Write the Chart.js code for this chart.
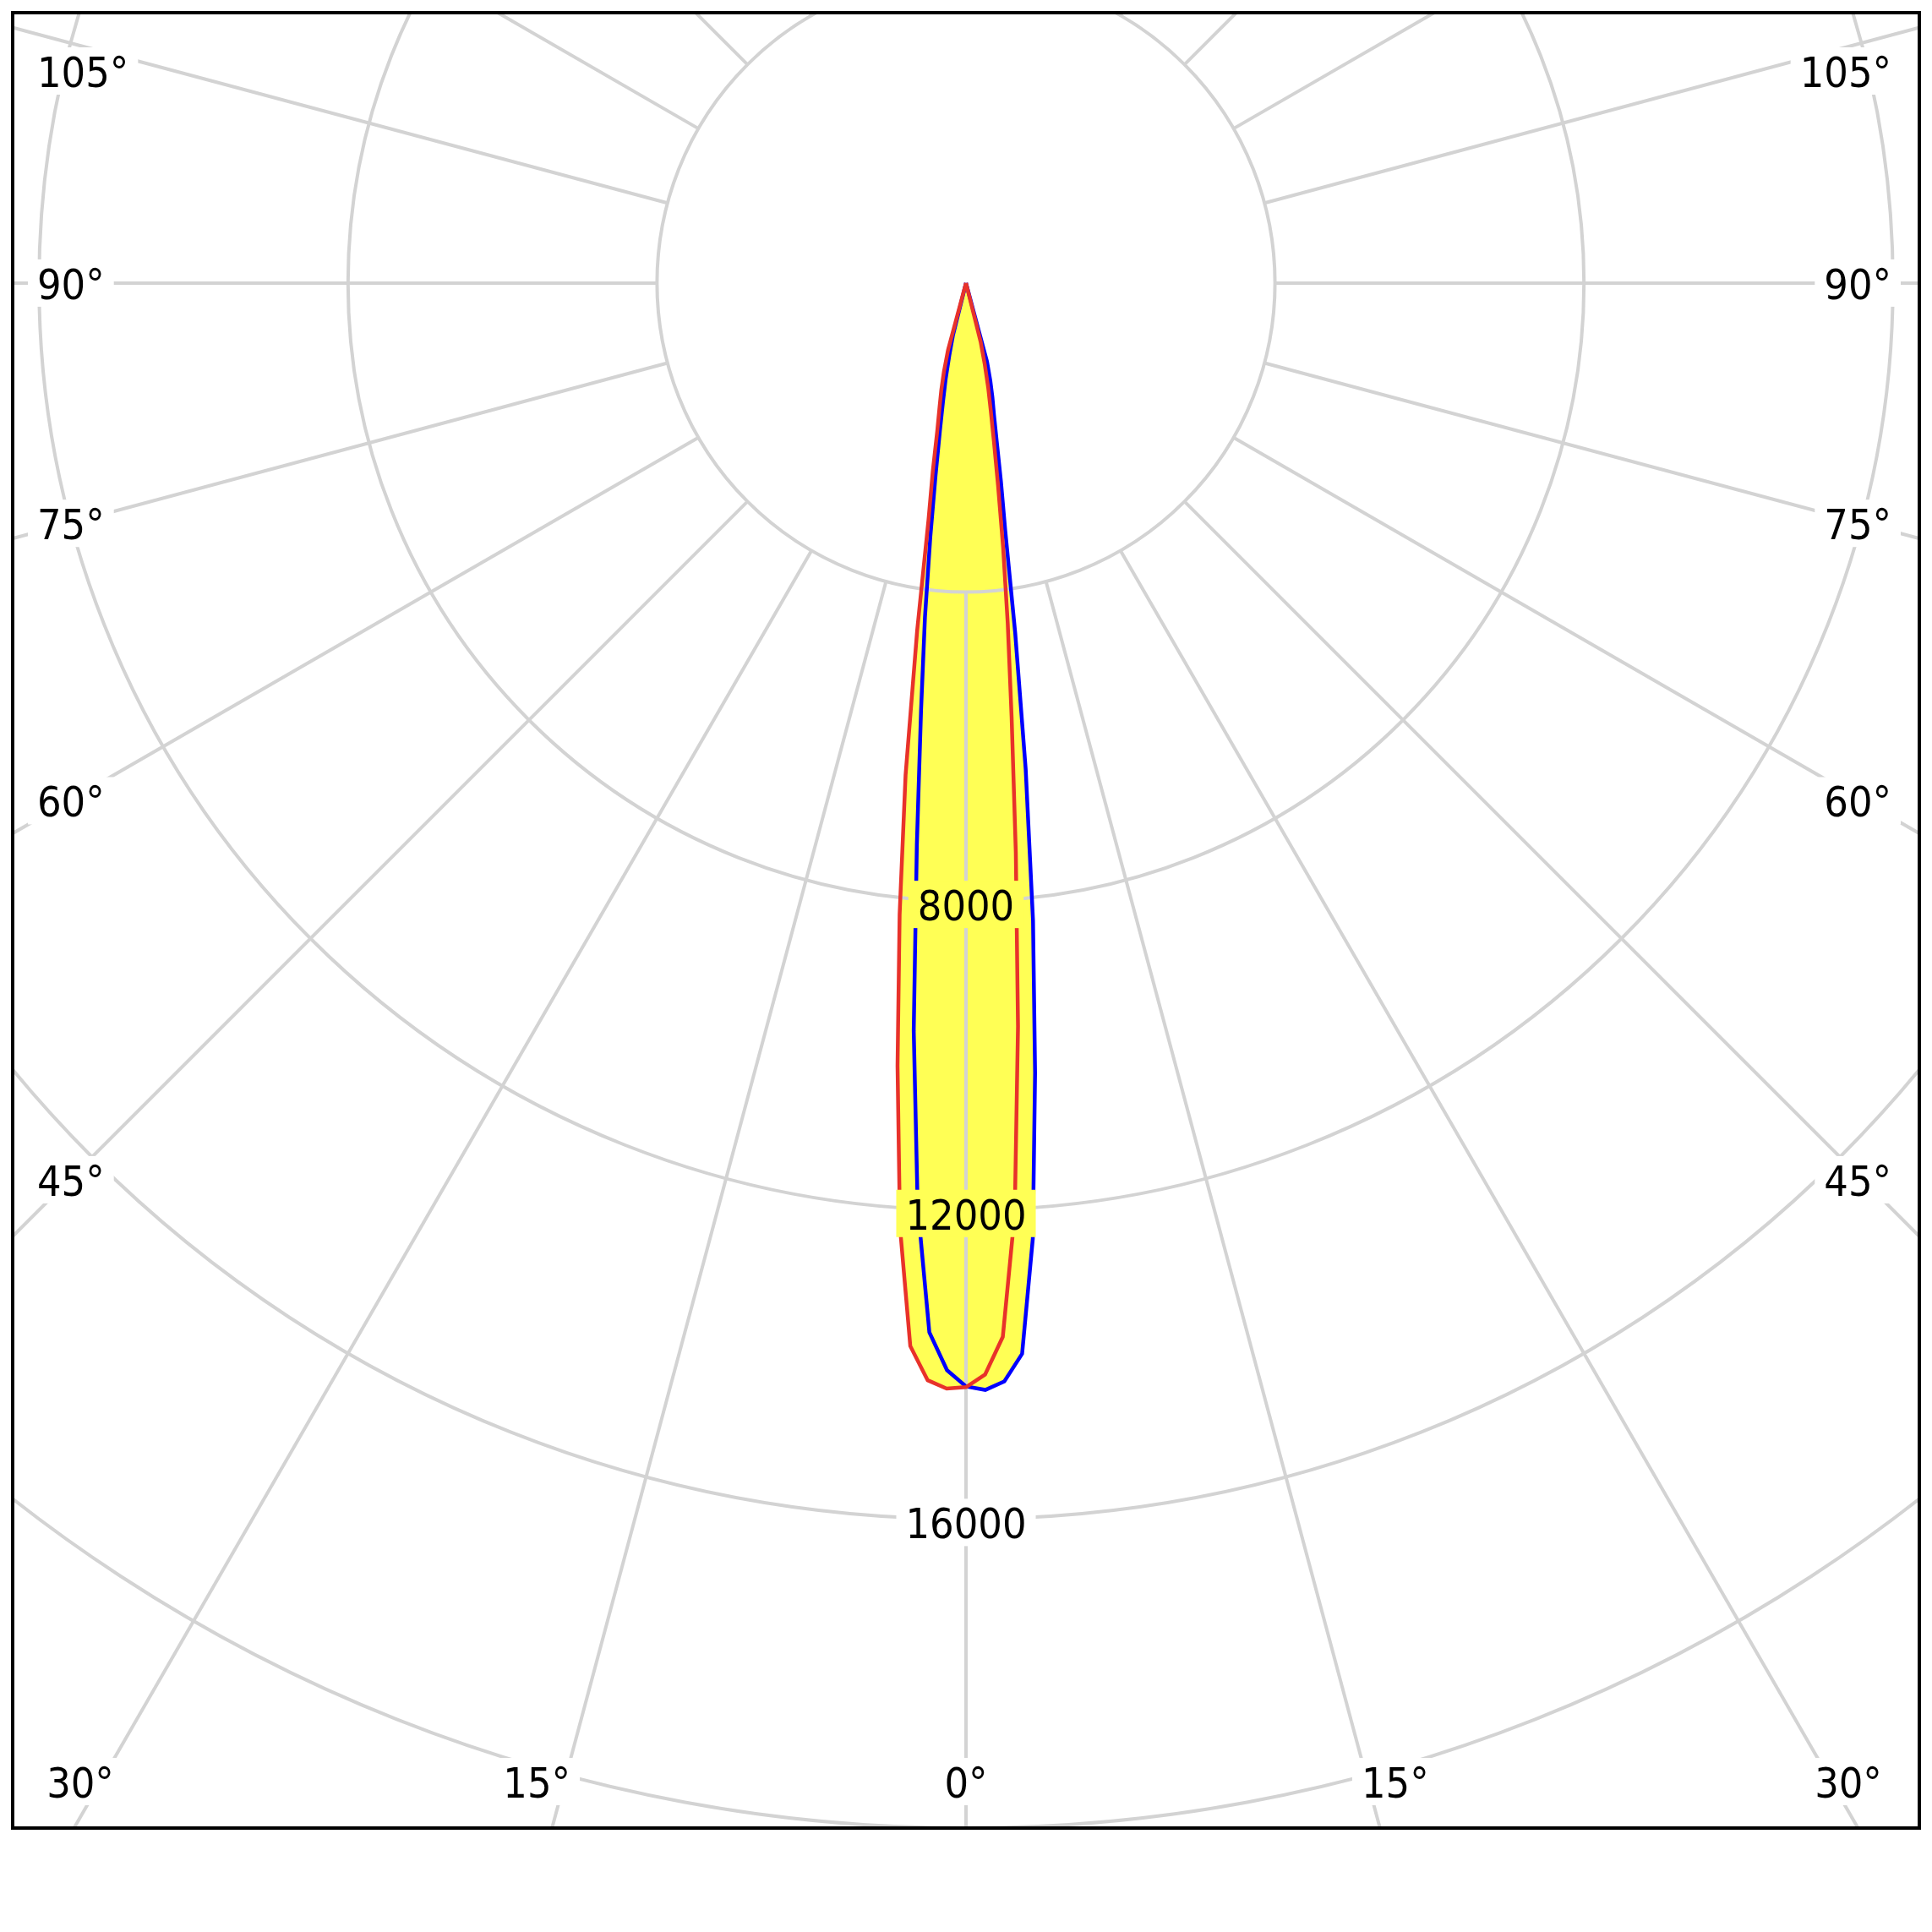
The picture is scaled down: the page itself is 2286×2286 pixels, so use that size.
<!DOCTYPE html>
<html>
<head>
<meta charset="utf-8">
<script src="https://cdn.jsdelivr.net/npm/chart.js@4.4.0/dist/chart.umd.min.js"></script>
<style>
  html, body { margin: 0; padding: 0; background: #fff; }
  #wrap { width: 2286px; height: 2286px; }
</style>
</head>
<body>
<div id="wrap"><canvas id="polar" width="2286" height="2286"></canvas></div>
<script>
// gamma angles (deg from nadir) and intensities (cd) per half plane
const gamma = [0, 1, 2, 3, 4, 5, 6, 7, 8, 9, 10, 11, 12, 13, 14, 15, 16];
const c0   = [14293, 14131, 13650, 12060, 9650, 7400, 5650, 4430, 3450, 2650, 2080, 1680, 1380, 1080, 780, 0, 0];
const c180 = [14293, 14314, 14212, 13780, 12250, 10170, 8220, 6420, 4540, 3100, 2480, 1950, 1650, 1420, 1180, 900, 0];
const c90  = [14282, 14330, 14226, 13880, 12400, 10260, 8300, 6340, 4580, 3250, 2600, 2080, 1740, 1520, 1300, 1050, 0];
const c270 = [14282, 14075, 13590, 11960, 9700, 7300, 5570, 4360, 3320, 2520, 1950, 1560, 1260, 960, 700, 0, 0];

const rings = [4000, 8000, 12000, 16000, 20000, 24000];
const ringLabels = [8000, 12000, 16000];
const spokes = [0, 15, 30, 45, 60, 75, 90, 105, 120, 135, 150, 165, 180];
const sideLabels = [45, 60, 75, 90, 105];
const bottomLabels = [0, 15, 30];

const GRID = '#d3d3d3';
const FILL = '#ffff55';
const FONT = '50px "DejaVu Sans Condensed", "DejaVu Sans", sans-serif';

// left half plane + right half plane -> one closed curve
function curve(left, right) {
  const pts = [];
  for (let i = gamma.length - 1; i >= 0; i--) {
    const a = gamma[i] * Math.PI / 180;
    pts.push({ x: -left[i] * Math.sin(a), y: -left[i] * Math.cos(a) });
  }
  for (let i = 1; i < gamma.length; i++) {
    const a = gamma[i] * Math.PI / 180;
    pts.push({ x: right[i] * Math.sin(a), y: -right[i] * Math.cos(a) });
  }
  return pts;
}

function polyPath(meta) {
  const p = new Path2D();
  meta.data.forEach((pt, i) => { if (i === 0) p.moveTo(pt.x, pt.y); else p.lineTo(pt.x, pt.y); });
  p.closePath();
  return p;
}

function boxLabel(ctx, text, x, cy, align, bg) {
  ctx.font = FONT;
  const w = ctx.measureText(text).width;
  let left = x;
  if (align === 'center') left = x - w / 2;
  if (align === 'right') left = x - w;
  ctx.fillStyle = bg;
  ctx.fillRect(left - 11, cy - 28, w + 22, 56);
  ctx.fillStyle = '#000';
  ctx.textAlign = 'left';
  ctx.textBaseline = 'alphabetic';
  ctx.fillText(text, left, cy + 19);
}

const polarGrid = {
  id: 'polarGrid',
  beforeDatasetsDraw(chart) {
    const { ctx, chartArea: ca, scales: { x, y } } = chart;
    const cx = x.getPixelForValue(0), cy = y.getPixelForValue(0);
    const k = x.getPixelForValue(1000) - cx;
    ctx.save();
    ctx.beginPath();
    ctx.rect(ca.left, ca.top, ca.width, ca.height);
    ctx.clip();
    // beam fill (union of both planes)
    ctx.fillStyle = FILL;
    chart.data.datasets.forEach((d, i) => ctx.fill(polyPath(chart.getDatasetMeta(i))));
    ctx.strokeStyle = GRID;
    ctx.lineWidth = 4;
    rings.forEach(r => {
      ctx.beginPath();
      ctx.arc(cx, cy, r / 1000 * k, 0, Math.PI * 2);
      ctx.stroke();
    });
    const r0 = rings[0] / 1000 * k, r1 = 40 * k;
    spokes.forEach(g => {
      const a = g * Math.PI / 180;
      [-1, 1].forEach(s => {
        ctx.beginPath();
        ctx.moveTo(cx + s * r0 * Math.sin(a), cy + r0 * Math.cos(a));
        ctx.lineTo(cx + s * r1 * Math.sin(a), cy + r1 * Math.cos(a));
        ctx.stroke();
      });
    });
    ctx.restore();
  },
  afterDatasetsDraw(chart) {
    const { ctx, chartArea: ca, scales: { x, y } } = chart;
    const cx = x.getPixelForValue(0), cy = y.getPixelForValue(0);
    const paths = chart.data.datasets.map((d, i) => polyPath(chart.getDatasetMeta(i)));
    ctx.save();
    // intensity labels on the 0° axis
    ringLabels.forEach(v => {
      const py = y.getPixelForValue(-v) + 4;
      const inside = paths.some(p => ctx.isPointInPath(p, cx, py));
      boxLabel(ctx, String(v), cx, py, 'center', inside ? FILL : '#fff');
    });
    // angle labels along the frame
    sideLabels.forEach(g => {
      const a = g * Math.PI / 180;
      const t = (cx - ca.left - 67) / Math.sin(a);
      const ly = Math.max(cy + t * Math.cos(a), ca.top + 69);
      boxLabel(ctx, g + '°', ca.left + 29, ly, 'left', '#fff');
      boxLabel(ctx, g + '°', ca.right - 33, ly, 'right', '#fff');
    });
    bottomLabels.forEach(g => {
      const a = g * Math.PI / 180;
      const ly = ca.bottom - 55;
      const dx = (ca.bottom + 67 - cy) * Math.tan(a);
      const xl = Math.max(cx - dx, ca.left + 80);
      const xr = Math.min(cx + dx, ca.right - 84);
      boxLabel(ctx, g + '°', xl, ly, 'center', '#fff');
      if (g !== 0) boxLabel(ctx, g + '°', xr, ly, 'center', '#fff');
    });
    // frame
    ctx.strokeStyle = '#000';
    ctx.lineWidth = 4;
    ctx.strokeRect(ca.left, ca.top, ca.width, ca.height);
    ctx.restore();
  }
};

new Chart(document.getElementById('polar'), {
  type: 'scatter',
  data: {
    datasets: [
      { label: 'C0 - C180', data: curve(c180, c0), showLine: true, borderColor: '#e8322a', borderWidth: 4.5, pointRadius: 0, tension: 0 },
      { label: 'C90 - C270', data: curve(c270, c90), showLine: true, borderColor: '#0000ff', borderWidth: 4.5, pointRadius: 0, tension: 0 }
    ]
  },
  options: {
    responsive: false,
    animation: false,
    layout: { padding: { left: 15, right: 15, top: 15, bottom: 123 } },
    plugins: { legend: { display: false }, tooltip: { enabled: false } },
    scales: {
      x: { type: 'linear', min: -12341, max: 12341, display: false },
      y: { type: 'linear', min: -20000, max: 3500, display: false }
    }
  },
  plugins: [polarGrid]
});
</script>
</body>
</html>
